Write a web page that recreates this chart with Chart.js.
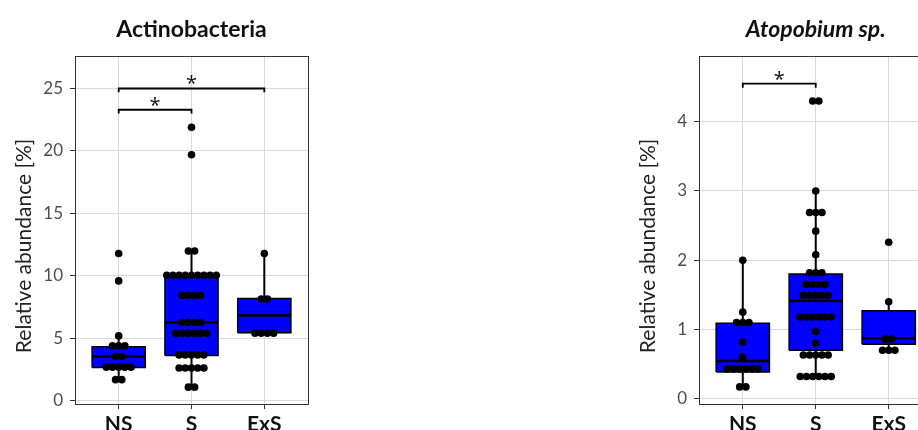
<!DOCTYPE html>
<html><head><meta charset="utf-8">
<script src="https://cdn.jsdelivr.net/npm/chart.js@4.4.1/dist/chart.umd.min.js"></script>
<style>
html,body{margin:0;padding:0;background:#fff;overflow:hidden;}
#wrap{position:relative;width:918px;height:430px;overflow:hidden;background:#fff;}
canvas{position:absolute;top:0;}
#c1{left:0;}
#c2{left:624px;}
</style></head><body>
<div id="wrap">
<canvas id="c1" width="330" height="445" style="width:330px;height:445px"></canvas>
<canvas id="c2" width="330" height="445" style="width:330px;height:445px"></canvas>
</div>
<script>
const categories = ['NS', 'S', 'ExS'];

// ---- Actinobacteria: individual values (%) ----
const actinoNS  = [11.8, 9.6, 5.2, 4.4, 4.4, 4.4, 3.55, 3.55, 2.7, 2.7, 2.7, 2.7, 2.7, 1.7, 1.7];
const actinoS   = [21.9, 19.7, 12.0, 12.0,
  10.05, 10.05, 10.05, 10.05, 10.05, 10.05, 10.05, 10.05, 10.05,
  8.44, 8.44, 8.44, 8.44, 6.27, 6.27, 6.27, 6.27,
  5.4, 5.4, 5.4, 5.4, 5.4, 5.4, 3.68, 3.68, 3.68, 3.68, 3.68,
  2.63, 2.63, 2.63, 2.63, 2.63, 1.1, 1.1];
const actinoExS = [11.8, 8.15, 8.15, 5.42, 5.42, 5.42, 5.42];
// box statistics per group
const actinoQ1     = [2.67, 3.63, 5.45];
const actinoMedian = [3.55, 6.27, 6.84];
const actinoQ3     = [4.33, 10.18, 8.2];
const actinoLow    = [1.7, 1.1, 5.42];
const actinoHigh   = [5.2, 12.0, 11.8];
const actinoTicks  = [0, 5, 10, 15, 20, 25];
const actinoPairs  = [[1, 2], [1, 3]];
const actinoPairLevels = [23.3, 25.0];
const actinoPairLabels = ['*', '*'];

// ---- Atopobium sp.: individual values (%) ----
const atopoNS  = [2.0, 1.25, 1.1, 1.1, 1.1, 0.815, 0.6, 0.43, 0.43, 0.43, 0.43, 0.43, 0.43, 0.17, 0.17];
const atopoS   = [4.3, 4.3, 3.0, 2.69, 2.69, 2.69, 2.42, 2.08, 1.82, 1.82, 1.82,
  1.65, 1.65, 1.65, 1.65, 1.49, 1.49, 1.49, 1.49, 1.49,
  1.18, 1.18, 1.18, 1.18, 1.18, 1.18, 0.97, 0.8,
  0.63, 0.63, 0.63, 0.63, 0.63, 0.32, 0.32, 0.32, 0.32, 0.32, 0.32];
const atopoExS = [2.26, 1.4, 0.86, 0.86, 0.7, 0.7, 0.7];
const atopoQ1     = [0.386, 0.70, 0.786];
const atopoMedian = [0.545, 1.41, 0.873];
const atopoQ3     = [1.09, 1.80, 1.27];
const atopoLow    = [0.17, 0.32, 0.70];
const atopoHigh   = [2.0, 3.0, 1.4];
const atopoTicks  = [0, 1, 2, 3, 4];
const atopoPairs  = [[1, 2]];
const atopoPairLevels = [4.55];
const atopoPairLabels = ['*'];

// ---- styling / layout constants ----
const BOX_HALF = 0.365;
const DOT_STEP = 0.085;
const DOT_R = 3.8;
const BLUE = '#0000ff';
const FONT = 'Lato';

function dotPoints(values, center) {
  const counts = new Map();
  values.forEach(v => counts.set(v, (counts.get(v) || 0) + 1));
  const pts = [];
  counts.forEach((n, v) => {
    for (let k = 0; k < n; k++) pts.push({x: center + (k - (n - 1) / 2) * DOT_STEP, y: v});
  });
  return pts;
}

function lineDs(data, width) {
  return {type: 'scatter', data, showLine: true, borderColor: '#000', borderWidth: width,
          pointRadius: 0, tension: 0, fill: false, clip: false};
}

function buildDatasets(groups, q1, med, q3, lo, hi, pairs, levels, tip) {
  const ds = [];
  let pts = [];
  groups.forEach((g, i) => { pts = pts.concat(dotPoints(g, i + 1)); });
  ds.push({type: 'scatter', data: pts, pointRadius: DOT_R, pointBackgroundColor: '#000',
           pointBorderWidth: 0, showLine: false});
  q1.forEach((_, i) => {
    const c = i + 1;
    ds.push(lineDs([{x: c - BOX_HALF, y: med[i]}, {x: c + BOX_HALF, y: med[i]}], 2.6));
  });
  q1.forEach((_, i) => {
    const c = i + 1;
    const d = lineDs([{x: c - BOX_HALF, y: q1[i]}, {x: c + BOX_HALF, y: q1[i]}, {x: c + BOX_HALF, y: q3[i]},
                      {x: c - BOX_HALF, y: q3[i]}, {x: c - BOX_HALF, y: q1[i]}], 1.5);
    d.fill = 'shape';
    d.backgroundColor = BLUE;
    ds.push(d);
  });
  q1.forEach((_, i) => {
    const c = i + 1;
    ds.push(lineDs([{x: c, y: lo[i]}, {x: c, y: hi[i]}], 2));
  });
  pairs.forEach((p, j) => {
    ds.push(lineDs([{x: p[0], y: levels[j] - tip}, {x: p[0], y: levels[j]},
                    {x: p[1], y: levels[j]}, {x: p[1], y: levels[j] - tip}], 1.8));
  });
  return ds;
}

const decorPlugin = {
  id: 'decor',
  beforeDatasetsDraw(chart) {
    const {ctx, chartArea: a} = chart;
    ctx.save();
    ctx.strokeStyle = '#333';
    ctx.lineWidth = 1;
    ctx.strokeRect(Math.round(a.left) + 0.5, Math.round(a.top) + 0.5,
                   Math.round(a.right - a.left), Math.round(a.bottom - a.top));
    ctx.restore();
  },
  afterDatasetsDraw(chart) {
    const o = chart.options.plugins.decor;
    const {ctx, chartArea: a, scales} = chart;
    ctx.save();
    ctx.fillStyle = '#111';
    ctx.font = '20px "Open Sans"';
    ctx.textAlign = 'center';
    ctx.textBaseline = 'alphabetic';
    o.pairs.forEach((p, j) => {
      const x = scales.x.getPixelForValue((p[0] + p[1]) / 2);
      const y = scales.y.getPixelForValue(o.levels[j]);
      ctx.fillText(o.labels[j], x, y + 2);
    });
    ctx.translate(24, (a.top + a.bottom) / 2 + 16);
    ctx.rotate(-Math.PI / 2);
    ctx.font = '21px ' + FONT;
    ctx.fillStyle = '#222';
    ctx.textBaseline = 'middle';
    ctx.fillText('Relative abundance [%]', 0, 0);
    ctx.restore();
  }
};

function makeChart(id, cfg) {
  const gridOpts = {color: '#d9d9d9', lineWidth: 1, tickLength: 5, tickColor: '#333', drawTicks: true};
  new Chart(document.getElementById(id), {
    type: 'scatter',
    data: {datasets: buildDatasets(cfg.groups, cfg.q1, cfg.med, cfg.q3, cfg.lo, cfg.hi, cfg.pairs, cfg.levels, cfg.tip)},
    options: {
      responsive: false, animation: false, events: [], devicePixelRatio: 1,
      layout: {padding: {left: 0, right: cfg.padRight, top: 0, bottom: 0}},
      plugins: {
        legend: {display: false}, tooltip: {enabled: false},
        title: {display: true, text: cfg.title, fullSize: false, color: '#111',
                font: {family: FONT, size: 23, weight: 'bold', style: cfg.italic ? 'italic' : 'normal', lineHeight: 1.2},
                padding: {top: 16, bottom: 12.4}},
        decor: {pairs: cfg.pairs, levels: cfg.levels, labels: cfg.labels}
      },
      scales: {
        x: {type: 'linear', min: 0.4, max: 3.6,
            afterBuildTicks: s => { s.ticks = categories.map((c, i) => ({value: i + 1})); },
            afterFit: s => { s.height = 41; },
            ticks: {callback: v => categories[Math.round(v) - 1], font: {family: FONT, size: 21, weight: 'bold'},
                    color: '#111', padding: 3, maxRotation: 0, autoSkip: false},
            grid: gridOpts, border: {display: true, color: '#333', width: 1}},
        y: {type: 'linear', min: cfg.yMin, max: cfg.yMax,
            afterBuildTicks: s => { s.ticks = cfg.ticks.map(v => ({value: v})); },
            afterFit: s => { s.width = 75; },
            ticks: {font: {family: FONT, size: 17}, color: '#4d4d4d', padding: 7},
            grid: gridOpts, border: {display: true, color: '#333', width: 1}}
      }
    },
    plugins: [decorPlugin]
  });
}

makeChart('c1', {
  title: 'Actinobacteria', italic: false,
  groups: [actinoNS, actinoS, actinoExS],
  q1: actinoQ1, med: actinoMedian, q3: actinoQ3, lo: actinoLow, hi: actinoHigh,
  ticks: actinoTicks, yMin: -0.25, yMax: 27.6,
  pairs: actinoPairs, levels: actinoPairLevels, labels: actinoPairLabels, tip: 0.3,
  padRight: 22
});
makeChart('c2', {
  title: 'Atopobium sp.', italic: true,
  groups: [atopoNS, atopoS, atopoExS],
  q1: atopoQ1, med: atopoMedian, q3: atopoQ3, lo: atopoLow, hi: atopoHigh,
  ticks: atopoTicks, yMin: -0.077, yMax: 4.95,
  pairs: atopoPairs, levels: atopoPairLevels, labels: atopoPairLabels, tip: 0.06,
  padRight: 21.5
});
</script>
</body></html>
